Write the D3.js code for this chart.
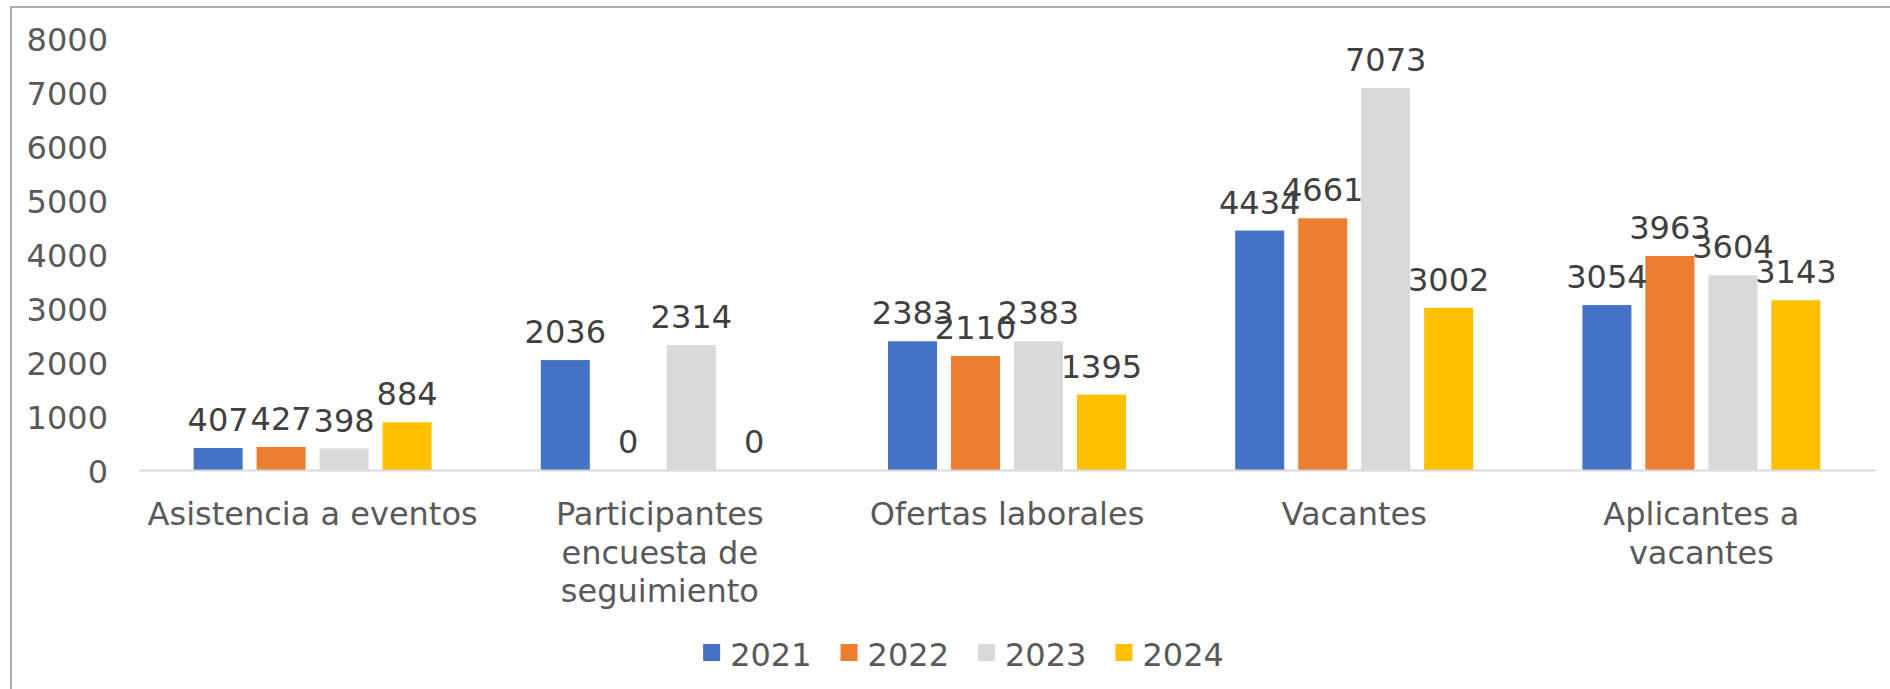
<!DOCTYPE html>
<html>
<head>
<meta charset="utf-8">
<script src="https://cdn.jsdelivr.net/npm/d3@7"></script>
<style>
  html, body { margin: 0; padding: 0; background: #fff; }
  svg { display: block; font-family: "DejaVu Sans", Verdana, sans-serif; }
</style>
</head>
<body>
<svg id="chart" width="1890" height="689"></svg>
<script>
const categories = ["Asistencia a eventos", "Participantes encuesta de seguimiento", "Ofertas laborales", "Vacantes", "Aplicantes a vacantes"];
const years = ["2021", "2022", "2023", "2024"];
const values2021 = [407, 2036, 2383, 4434, 3054];
const values2022 = [427, 0, 2110, 4661, 3963];
const values2023 = [398, 2314, 2383, 7073, 3604];
const values2024 = [884, 0, 1395, 3002, 3143];
const yTicks = [0, 1000, 2000, 3000, 4000, 5000, 6000, 7000, 8000];
const colors = ["#4472C4", "#ED7D31", "#D9D9D9", "#FFC000"];

const seriesValues = [values2021, values2022, values2023, values2024];

const svg = d3.select("#chart");
const W = 1890, H = 689;
const plot = { left: 139, right: 1875, top: 38, bottom: 470 };
const FS = 32;

// chart border
svg.append("rect")
  .attr("x", 11).attr("y", 7)
  .attr("width", W + 20).attr("height", H + 20)
  .attr("fill", "#fff").attr("stroke", "#ADADAD").attr("stroke-width", 2);

const x0 = d3.scaleBand().domain(categories).range([plot.left, plot.right]).paddingInner(0).paddingOuter(0);
const x1 = d3.scaleBand().domain(years).range([0, x0.bandwidth()]).paddingInner(0.222).paddingOuter(0.867);
const y = d3.scaleLinear().domain([0, 8000]).range([plot.bottom, plot.top]);
const color = d3.scaleOrdinal().domain(years).range(colors);

// y axis labels
const yAxis = d3.axisLeft(y).tickValues(yTicks).tickSize(0).tickPadding(0).tickFormat(d3.format("d"));
const gy = svg.append("g").attr("transform", "translate(108,0)").call(yAxis);
gy.select(".domain").remove();
gy.selectAll("text")
  .attr("fill", "#595959")
  .style("font-size", FS + "px")
  .style("font-family", "'DejaVu Sans', Verdana, sans-serif")
  .attr("dy", "0.39em");

// bars
const groups = svg.append("g").selectAll("g")
  .data(categories)
  .join("g")
  .attr("transform", d => `translate(${x0(d)},0)`);

groups.selectAll("rect")
  .data((c, ci) => years.map((yr, si) => ({ yr, v: seriesValues[si][ci] })))
  .join("rect")
  .attr("x", d => x1(d.yr))
  .attr("y", d => y(d.v))
  .attr("width", x1.bandwidth())
  .attr("height", d => y(0) - y(d.v))
  .attr("fill", d => color(d.yr));

// x axis
const xAxis = d3.axisBottom(x0).tickSize(0).tickPadding(0);
const gx = svg.append("g").attr("transform", `translate(0,${plot.bottom})`).call(xAxis);
gx.select(".domain").attr("stroke", "#D9D9D9").attr("stroke-width", 2);
gx.selectAll("text")
  .attr("fill", "#595959")
  .style("font-size", FS + "px")
  .style("font-family", "'DejaVu Sans', Verdana, sans-serif")
  .attr("y", 55).attr("dy", 0)
  .each(function(d) {
    const t = d3.select(this);
    const words = d.split(" ");
    const maxW = x0.bandwidth() - 4;
    t.text(null);
    let line = [];
    let lineNo = 0;
    let tspan = t.append("tspan").attr("x", 0).attr("y", 55);
    words.forEach(w => {
      line.push(w);
      tspan.text(line.join(" "));
      if (tspan.node().getComputedTextLength() > maxW && line.length > 1) {
        line.pop();
        tspan.text(line.join(" "));
        line = [w];
        lineNo++;
        tspan = t.append("tspan").attr("x", 0).attr("y", 55 + lineNo * 38.5).text(w);
      }
    });
  });

// data labels
groups.selectAll("text.lbl")
  .data((c, ci) => years.map((yr, si) => ({ yr, v: seriesValues[si][ci] })))
  .join("text")
  .attr("class", "lbl")
  .attr("x", d => x1(d.yr) + x1.bandwidth() / 2)
  .attr("y", d => y(d.v) - 17)
  .attr("text-anchor", "middle")
  .attr("fill", "#404040")
  .style("font-size", FS + "px")
  .text(d => d.v);

// legend
const legend = svg.append("g");
const items = legend.selectAll("g").data(years).join("g");
items.append("rect").attr("width", 17).attr("height", 17).attr("y", 644).attr("fill", d => color(d));
items.append("text").attr("x", 27).attr("y", 666)
  .attr("fill", "#595959").style("font-size", FS + "px").text(d => d);
let widths = [];
items.each(function() {
  widths.push(27 + d3.select(this).select("text").node().getComputedTextLength());
});
const gap = 29;
const total = d3.sum(widths) + gap * (widths.length - 1);
let cx = 963.5 - total / 2;
items.each(function(d, i) {
  d3.select(this).attr("transform", `translate(${cx},0)`);
  cx += widths[i] + gap;
});
</script>
</body>
</html>
